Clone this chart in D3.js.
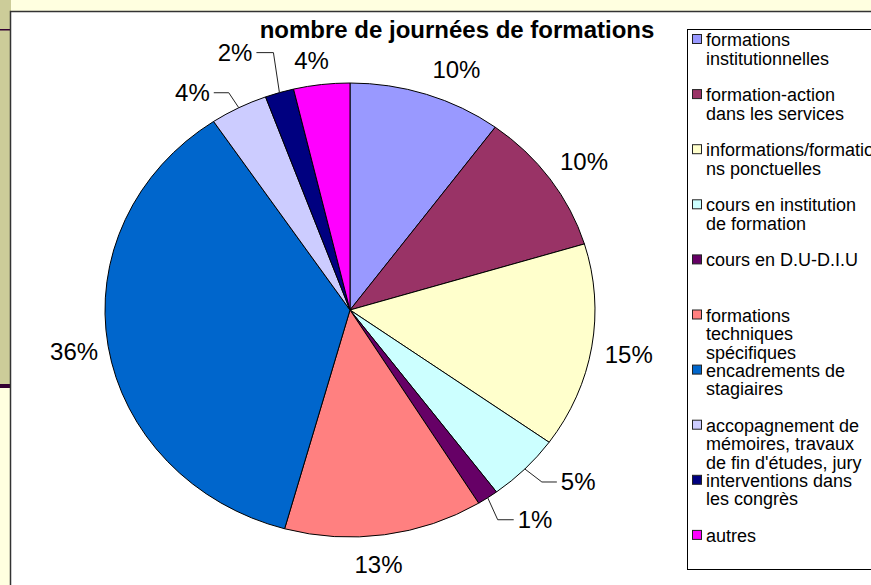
<!DOCTYPE html>
<html>
<head>
<meta charset="utf-8">
<script src="https://cdn.jsdelivr.net/npm/d3@7"></script>
<style>
  html, body { margin: 0; padding: 0; background: #ffffe0; overflow: hidden; }
  svg { display: block; font-family: "Liberation Sans", Arial, sans-serif; }
</style>
</head>
<body>
<div id="chart"></div>
<script>
'use strict';

// data (share of training days, %)
const categories = [
  "formations institutionnelles",
  "formation-action dans les services",
  "informations/formations ponctuelles",
  "cours en institution de formation",
  "cours en D.U-D.I.U",
  "formations techniques spécifiques",
  "encadrements de stagiaires",
  "accopagnement de mémoires, travaux de fin d'études, jury",
  "interventions dans les congrès",
  "autres",
];
const values = [10.1, 10.2, 14.6, 4.9, 1.4, 13.1, 36.3, 3.8, 1.9, 3.7];
const title = "nombre de journées de formations";

// excel's default pie palette
const colors = ["#9999ff", "#993366", "#ffffcc", "#ccffff", "#660066",
                "#ff8080", "#0066cc", "#ccccff", "#000080", "#ff00ff"];

// where excel dropped each percentage label, relative to the rim point of the slice
// plain labels: shift of the text (middle, baseline); leader labels: elbow + horizontal run
const labelLayout = [
  {dx: 30, dy: -16},
  {dx: 34, dy: -9},
  {dx: 37, dy: 16},
  {elbow: [17, 13], run: 15},
  {elbow: [10, 22], run: 16},
  {dx: -6, dy: 38},
  {dx: -34, dy: 14},
  {elbow: [-10, -15], run: -15},
  {elbow: [-6, -40], run: -17},
  {dx: -10, dy: -16},
];

const W = 871, H = 585;
const cx = 350, cy = 310, rx = 245, ry = 227; // pie got stretched sideways on the slide

const svg = d3.select("#chart")
  .append("svg")
    .attr("width", W)
    .attr("height", H);

// slide background bits around the chart object
svg.append("rect").attr("width", W).attr("height", H).attr("fill", "#ffffe0");
svg.append("rect").attr("x", 0).attr("y", 0).attr("width", 11).attr("height", 386).attr("fill", "#cccc99");
svg.append("rect").attr("x", 0).attr("y", 29).attr("width", 11).attr("height", 1.5).attr("fill", "#330033");
svg.append("rect").attr("x", 0).attr("y", 384).attr("width", 11).attr("height", 4).attr("fill", "#330033");

// chart area
svg.append("rect")
  .attr("x", 10.5).attr("y", 11.5)
  .attr("width", W + 20).attr("height", H + 20)
  .attr("fill", "white")
  .attr("stroke", "#333")
  .attr("stroke-width", 1.5);

// title
svg.append("text")
  .attr("x", 457)
  .attr("y", 38)
  .attr("text-anchor", "middle")
  .style("font-size", "24px")
  .style("font-weight", "bold")
  .text(title);

// pie
const total = d3.sum(values);
const arcs = d3.pie().sort(null).value(d => d)(values);
const arc = d3.arc().innerRadius(0).outerRadius(ry);

const pieG = svg.append("g")
  .attr("transform", `translate(${cx},${cy}) scale(${rx / ry},1)`);

pieG.selectAll("path")
  .data(arcs)
  .enter()
  .append("path")
    .attr("d", arc)
    .attr("fill", (d, i) => colors[i])
    .attr("stroke", "#000")
    .attr("stroke-width", 1)
    .attr("vector-effect", "non-scaling-stroke");

// rim point of a slice at its mid angle (on the stretched ellipse)
const rim = d => {
  const a = (d.startAngle + d.endAngle) / 2;
  return [cx + rx * Math.sin(a), cy - ry * Math.cos(a)];
};

const labelG = svg.append("g").style("font-size", "24px");

arcs.forEach((d, i) => {
  const [ex, ey] = rim(d);
  const lay = labelLayout[i];
  const txt = Math.round(d.value / total * 100) + "%";

  if (lay.elbow) {
    const bx = ex + lay.elbow[0], by = ey + lay.elbow[1];
    const endX = bx + lay.run;
    labelG.append("polyline")
      .attr("points", `${ex},${ey} ${bx},${by} ${endX},${by}`)
      .attr("fill", "none")
      .attr("stroke", "#222")
      .attr("stroke-width", 1);
    labelG.append("text")
      .attr("x", endX + (lay.run > 0 ? 4 : -4))
      .attr("y", by + 8.5)
      .attr("text-anchor", lay.run > 0 ? "start" : "end")
      .text(txt);
  } else {
    labelG.append("text")
      .attr("x", ex + lay.dx)
      .attr("y", ey + lay.dy)
      .attr("text-anchor", "middle")
      .text(txt);
  }
});

// legend
const legend = {x: 687.5, y: 29.5, top: 46, step: 55.1, lineH: 18.5, textX: 706, maxW: 170};

svg.append("rect")
  .attr("x", legend.x).attr("y", legend.y)
  .attr("width", 300).attr("height", 540)
  .attr("fill", "white")
  .attr("stroke", "#000")
  .attr("stroke-width", 1);

const legendG = svg.append("g").style("font-size", "18px");

// measuring text to wrap legend entries the way excel does
const probe = legendG.append("text").attr("x", -1000).attr("y", -1000);
const measure = s => probe.text(s).node().getComputedTextLength();

function wrap(str, maxW) {
  const lines = [];
  let cur = "";
  str.split(" ").forEach(w => {
    const test = cur ? cur + " " + w : w;
    if (measure(test) <= maxW) { cur = test; return; }
    if (cur) lines.push(cur);
    cur = w;
    // words too long for the box get cut mid-word
    while (measure(cur) > maxW) {
      let k = cur.length - 1;
      while (k > 1 && measure(cur.slice(0, k)) > maxW) k--;
      lines.push(cur.slice(0, k));
      cur = cur.slice(k);
    }
  });
  if (cur) lines.push(cur);
  return lines;
}

categories.forEach((name, i) => {
  const base = legend.top + i * legend.step;
  legendG.append("rect")
    .attr("x", 692.5).attr("y", base - 11.5)
    .attr("width", 9).attr("height", 9)
    .attr("fill", colors[i])
    .attr("stroke", "#222")
    .attr("stroke-width", 1);

  const t = legendG.append("text")
    .attr("x", legend.textX)
    .attr("y", base);
  wrap(name, legend.maxW).forEach((line, j) => {
    t.append("tspan")
      .attr("x", legend.textX)
      .attr("y", base + j * legend.lineH)
      .text(line);
  });
});

probe.remove();
</script>
</body>
</html>
